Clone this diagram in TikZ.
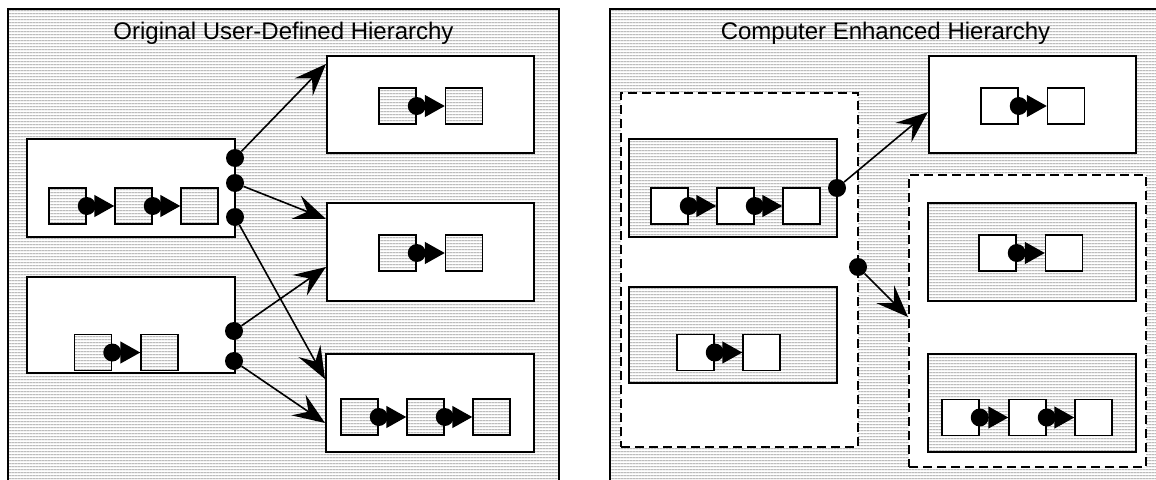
\documentclass[tikz,border=0pt]{standalone}
\usepackage{fontspec}
\setmainfont{Liberation Sans}
\usetikzlibrary{arrows.meta,patterns.meta,calc}
\definecolor{hatch}{gray}{0.6}
\tikzdeclarepattern{
  name=hlines,
  type=uncolored,
  bounding box={(0pt,0pt) and (3pt,3pt)},
  tile size={(3pt,3pt)},
  code={\pgfsetlinewidth{1pt}\pgfpathmoveto{\pgfpoint{-0.5pt}{1.5pt}}\pgfpathlineto{\pgfpoint{3.5pt}{1.5pt}}\pgfusepath{stroke}}
}
\newcommand\chainlink[2]{\draw[lk] (#1.east) -- (#2.west); \node[sdot] (#1-d) at (#1.east) {};}
\begin{document}
\begin{tikzpicture}[x=1pt,y=-1pt,
  hatched/.style={preaction={fill=white},pattern=hlines,pattern color=hatch},
  panel/.style={line width=2pt},
  bigbox/.style={draw,line width=2pt,inner sep=0},
  whitebox/.style={bigbox,fill=white},
  hatchbox/.style={bigbox,hatched},
  groupbox/.style={draw,line width=2pt,inner sep=0,fill=white,dash pattern=on 9pt off 5pt},
  sqbox/.style={draw,line width=1.5pt,minimum width=37pt,minimum height=36pt,inner sep=0},
  wsq/.style={sqbox,fill=white},
  hsq/.style={sqbox,hatched},
  lk/.style={line width=1.5pt,-{Triangle[length=20pt,width=22pt]}},
  sdot/.style={circle,fill=black,inner sep=0,minimum size=18pt},
  dot/.style={circle,fill=black,inner sep=0,minimum size=18pt},
  conn/.style={line width=1.6pt,-{Stealth[length=32pt,width=25pt,inset=12pt]}},
  title/.style={font=\fontsize{24}{28}\selectfont,anchor=base,inner sep=0}
]
\useasboundingbox (0,0) rectangle (1156,479);
\clip (0,0) rectangle (1156,479);
% panels
\fill[hatched] (8,9) rectangle (559,495);
\draw[panel] (8,495) -- (8,9) -- (559,9) -- (559,495);
\fill[hatched] (610,9) rectangle (1170,495);
\draw[panel] (610,495) -- (610,9) -- (1170,9) -- (1170,495);
\node[title] (t1) at (283.5,39) {Original User-Defined Hierarchy};
\node[title] (t2) at (885.5,39) {Computer Enhanced Hierarchy};

% ---------- left panel ----------
\node[whitebox,minimum width=207pt,minimum height=97pt] (A1) at (430.5,104.5) {};
\node[whitebox,minimum width=207pt,minimum height=98pt] (A2) at (430.5,252) {};
\node[whitebox,minimum width=208pt,minimum height=98pt] (A3) at (430,403) {};
\node[whitebox,minimum width=208pt,minimum height=98pt] (B1) at (131,188) {};
\node[whitebox,minimum width=208pt,minimum height=96pt] (B2) at (131,325) {};

\node[hsq] (a11) at (397.5,106) {};
\node[hsq] (a12) at (464,106) {};
\chainlink{a11}{a12}
\node[hsq] (a21) at (397.5,253) {};
\node[hsq] (a22) at (464,253) {};
\chainlink{a21}{a22}
\node[hsq] (a31) at (359.5,417) {};
\node[hsq] (a32) at (425.5,417) {};
\node[hsq] (a33) at (491.5,417) {};
\chainlink{a31}{a32}
\chainlink{a32}{a33}
\node[hsq] (b11) at (67.5,206) {};
\node[hsq] (b12) at (133.5,206) {};
\node[hsq] (b13) at (199.5,206) {};
\chainlink{b11}{b12}
\chainlink{b12}{b13}
\node[hsq] (b21) at (93,352.5) {};
\node[hsq] (b22) at (159.5,352.5) {};
\chainlink{b21}{b22}

\node[dot] (d1) at (235,158) {};
\node[dot] (d2) at (235,183) {};
\node[dot] (d3) at (235,217) {};
\node[dot] (d4) at (234,331) {};
\node[dot] (d5) at (234,361) {};
\draw[conn] (d1) -- ($(A1.north west)+(0,9)$);
\draw[conn] (d2) -- ($(A2.north west)+(0,17)$);
\draw[conn] (d3) -- ($(A3.north west)+(0,26)$);
\draw[conn] (d4) -- ($(A2.north west)+(0,65)$);
\draw[conn] (d5) -- ($(A3.north west)+(0,70)$);

% ---------- right panel ----------
\node[groupbox,minimum width=237pt,minimum height=354pt] (D1) at (739.5,270) {};
\node[groupbox,minimum width=237pt,minimum height=292pt] (D2) at (1027.5,321) {};
\node[whitebox,minimum width=207pt,minimum height=97pt] (E1) at (1032.5,104.5) {};
\node[hatchbox,minimum width=208pt,minimum height=98pt] (E2) at (1032,252) {};
\node[hatchbox,minimum width=208pt,minimum height=98pt] (E3) at (1032,403) {};
\node[hatchbox,minimum width=208pt,minimum height=98pt] (C1) at (733,188) {};
\node[hatchbox,minimum width=208pt,minimum height=96pt] (C2) at (733,335) {};

\node[wsq] (e11) at (999.5,106) {};
\node[wsq] (e12) at (1066,106) {};
\chainlink{e11}{e12}
\node[wsq] (e21) at (997.5,253) {};
\node[wsq] (e22) at (1064,253) {};
\chainlink{e21}{e22}
\node[wsq] (e31) at (960.5,417.5) {};
\node[wsq] (e32) at (1027.5,417.5) {};
\node[wsq] (e33) at (1093.5,417.5) {};
\chainlink{e31}{e32}
\chainlink{e32}{e33}
\node[wsq] (c11) at (669.5,206) {};
\node[wsq] (c12) at (735.5,206) {};
\node[wsq] (c13) at (801.5,206) {};
\chainlink{c11}{c12}
\chainlink{c12}{c13}
\node[wsq] (c21) at (695.5,352.5) {};
\node[wsq] (c22) at (761.5,352.5) {};
\chainlink{c21}{c22}

\node[dot] (f1) at (837,188) {};
\node[dot] (f2) at (858,267) {};
\draw[conn] (f1) -- ($(E1.north west)+(0,57)$);
\draw[conn] (f2) -- ($(D2.north west)+(0,143)$);
\end{tikzpicture}
\end{document}
